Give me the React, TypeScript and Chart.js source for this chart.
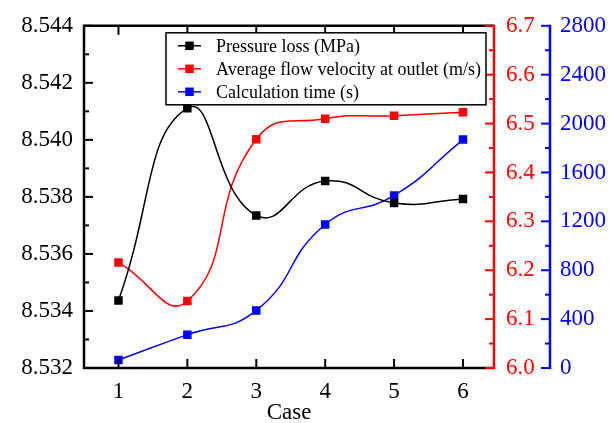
import React, { useEffect, useRef } from "react";
import { Chart, registerables } from "chart.js";

Chart.register(...registerables);

const CASES = [1, 2, 3, 4, 5, 6];
const PRESSURE_LOSS = [8.53437, 8.54111, 8.53735, 8.53856, 8.53779, 8.53793];
const VELOCITY = [6.216, 6.137, 6.468, 6.51, 6.516, 6.523];
const CALC_TIME = [65, 273, 471, 1174, 1412, 1869];

const LEFT_TICKS = [8.532, 8.534, 8.536, 8.538, 8.54, 8.542, 8.544];
const RED_TICKS = [6.0, 6.1, 6.2, 6.3, 6.4, 6.5, 6.6, 6.7];
const BLUE_TICKS = [0, 400, 800, 1200, 1600, 2000, 2400, 2800];

const LABELS = [
  "Pressure loss (MPa)",
  "Average flow velocity at outlet (m/s)",
  "Calculation time (s)",
];
const X_TITLE = "Case";

const FONT = "'Liberation Serif', 'Times New Roman', serif";

const originAxes = {
  id: "originAxes",
  afterDatasetsDraw(chart: any) {
    const { ctx, chartArea: ca, scales } = chart;
    const { x, y, y1, y2 } = scales;
    const seg = (x0: number, y0: number, x1: number, yy1: number) => {
      ctx.beginPath();
      ctx.moveTo(x0, y0);
      ctx.lineTo(x1, yy1);
      ctx.stroke();
    };
    ctx.save();
    ctx.lineCap = "butt";
    // black frame
    ctx.strokeStyle = "#000";
    ctx.lineWidth = 2.5;
    ctx.beginPath();
    ctx.moveTo(ca.right, ca.top);
    ctx.lineTo(ca.left, ca.top);
    ctx.lineTo(ca.left, ca.bottom);
    ctx.lineTo(ca.right, ca.bottom);
    ctx.stroke();
    ctx.lineWidth = 2;
    for (const v of CASES) {
      const px = x.getPixelForValue(v);
      seg(px, ca.bottom, px, ca.bottom - 9);
      seg(px, ca.top, px, ca.top + 9);
    }
    const vTicks = (scale: any, vals: number[], ax: number, dir: number) => {
      for (let i = 0; i < vals.length; i++) {
        const py = scale.getPixelForValue(vals[i]);
        seg(ax, py, ax + dir * 9, py);
        if (i < vals.length - 1) {
          const pm = scale.getPixelForValue((vals[i] + vals[i + 1]) / 2);
          seg(ax, pm, ax + dir * 5, pm);
        }
      }
    };
    vTicks(y, LEFT_TICKS, ca.left, 1);
    // red axis
    ctx.strokeStyle = "#ff0000";
    ctx.lineWidth = 2.5;
    seg(ca.right, ca.top - 1, ca.right, ca.bottom + 1.25);
    ctx.lineWidth = 2;
    vTicks(y1, RED_TICKS, ca.right, -1);
    // blue axis
    ctx.strokeStyle = "#0000ff";
    ctx.lineWidth = 2.5;
    const bx = y2.left;
    seg(bx, ca.top - 1, bx, ca.bottom + 1.25);
    ctx.lineWidth = 2;
    vTicks(y2, BLUE_TICKS, bx, -1);

    // legend
    const lx = ca.left + 82;
    const ly = ca.top + 7;
    const lw = ca.right - 8 - lx;
    const lh = 72;
    ctx.fillStyle = "#fff";
    ctx.fillRect(lx, ly, lw, lh);
    ctx.strokeStyle = "#000";
    ctx.lineWidth = 1.5;
    ctx.strokeRect(lx, ly, lw, lh);
    ctx.font = `18px ${FONT}`;
    ctx.textBaseline = "middle";
    ctx.textAlign = "left";
    chart.data.datasets.forEach((ds: any, i: number) => {
      const ry = ly + 13 + i * 23;
      ctx.strokeStyle = ds.borderColor;
      ctx.lineWidth = 1.5;
      seg(lx + 12, ry, lx + 35, ry);
      ctx.fillStyle = ds.borderColor;
      ctx.fillRect(lx + 23.5 - 4.25, ry - 4.25, 8.5, 8.5);
      ctx.fillStyle = "#000";
      ctx.fillText(ds.label, lx + 50, ry + 1);
    });
    ctx.restore();
  },
};

const mkTicks = (vals: number[]) => (s: any) => {
  s.ticks = vals.map((v) => ({ value: v }));
};

export default function App() {
  const ref = useRef<HTMLCanvasElement>(null);
  useEffect(() => {
    const ds = (label: string, data: number[], color: string, axis: string) => ({
      label,
      data: CASES.map((c, i) => ({ x: c, y: data[i] })),
      borderColor: color,
      backgroundColor: color,
      borderWidth: 1.5,
      pointStyle: "rect",
      pointRadius: 6,
      pointBorderWidth: 0,
      tension: 0.5,
      yAxisID: axis,
    });
    const chart = new Chart(ref.current!, {
      type: "line",
      data: {
        datasets: [
          ds(LABELS[0], PRESSURE_LOSS, "#000000", "y"),
          ds(LABELS[1], VELOCITY, "#ff0000", "y1"),
          ds(LABELS[2], CALC_TIME, "#0000ff", "y2"),
        ],
      },
      options: {
        animation: false,
        responsive: false,
        maintainAspectRatio: false,
        layout: { padding: { top: 23, left: 0, right: 0, bottom: 0 } },
        plugins: { legend: { display: false }, tooltip: { enabled: false } },
        scales: {
          x: {
            type: "linear",
            min: 0.5,
            max: 6.45,
            afterBuildTicks: mkTicks(CASES),
            afterFit: (s: any) => {
              s.height = 55;
            },
            grid: { display: false, drawTicks: false },
            border: { display: false },
            ticks: {
              color: "#000",
              font: { family: FONT, size: 23 },
              padding: 10,
              callback: (v: any) => String(v),
            },
            title: {
              display: true,
              text: X_TITLE,
              color: "#000",
              font: { family: FONT, size: 23 },
              padding: { top: 0, bottom: -4 },
            },
          },
          y: {
            position: "left",
            min: 8.532,
            max: 8.544,
            afterBuildTicks: mkTicks(LEFT_TICKS),
            afterFit: (s: any) => {
              s.width = 84;
            },
            grid: { display: false, drawTicks: false },
            border: { display: false },
            ticks: {
              color: "#000",
              font: { family: FONT, size: 23 },
              padding: 11,
              callback: (v: any) => Number(v).toFixed(3),
            },
          },
          y1: {
            position: "right",
            min: 6.0,
            max: 6.7,
            afterBuildTicks: mkTicks(RED_TICKS),
            afterFit: (s: any) => {
              s.width = 56;
            },
            grid: { display: false, drawTicks: false },
            border: { display: false },
            ticks: {
              color: "#ff0000",
              font: { family: FONT, size: 23 },
              padding: 12,
              callback: (v: any) => Number(v).toFixed(1),
            },
          },
          y2: {
            position: "right",
            min: 0,
            max: 2800,
            afterBuildTicks: mkTicks(BLUE_TICKS),
            afterFit: (s: any) => {
              s.width = 59;
            },
            grid: { display: false, drawTicks: false },
            border: { display: false },
            ticks: {
              color: "#0000ff",
              font: { family: FONT, size: 23 },
              padding: 10,
              callback: (v: any) => String(Math.round(Number(v))),
            },
          },
        },
      } as any,
      plugins: [originAxes],
    } as any);
    return () => chart.destroy();
  }, []);
  return (
    <div style={{ position: "absolute", left: 0, top: 0, width: 609, height: 423 }}>
      <canvas ref={ref} width={609} height={423} style={{ width: 609, height: 423 }} />
    </div>
  );
}
